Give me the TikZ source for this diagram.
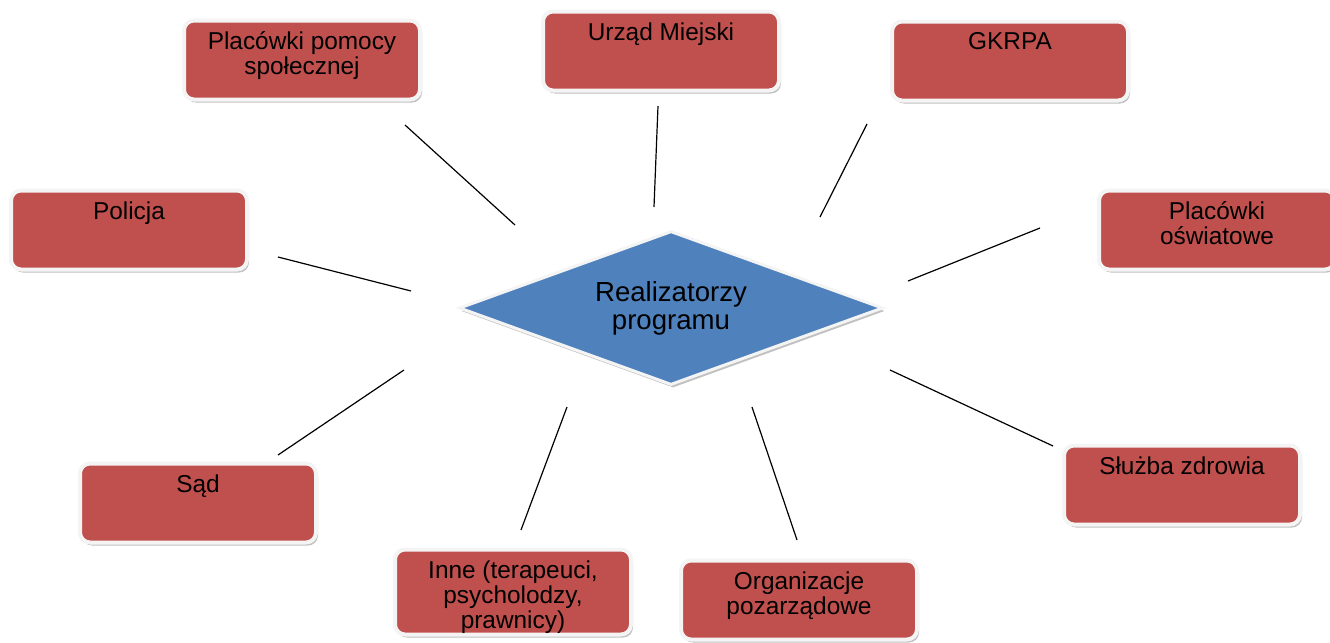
\documentclass[tikz,border=0pt]{standalone}
\usepackage{fontspec}
\setmainfont{Liberation Sans}
\usetikzlibrary{shadows,shapes.geometric,positioning}

\definecolor{boxred}{HTML}{C0504D}
\definecolor{diamblue}{HTML}{4F81BD}
\definecolor{rimwhite}{HTML}{F4F4F4}

\begin{document}
\begin{tikzpicture}[x=0.5pt,y=-0.5pt,
    box/.style={draw=rimwhite,line width=2pt,fill=boxred,rounded corners=5pt,
      minimum width=118pt,minimum height=39.5pt,inner sep=0pt,
      drop shadow={shadow xshift=1pt,shadow yshift=-1.5pt,opacity=.35,fill=black!70}},
    boxtext/.style={inner sep=0pt,align=center,font=\fontsize{12.2}{12.5}\selectfont},
    hub/.style={diamond,aspect=2.74,draw=rimwhite,line width=1.5pt,fill=diamblue,
      minimum width=212pt,minimum height=77pt,inner sep=0pt,align=center,
      font=\fontsize{13.8}{14}\selectfont,
      drop shadow={shadow xshift=1pt,shadow yshift=-1.5pt,opacity=.35,fill=black!70}},
    spoke/.style={black,line width=0.6pt}]
  \useasboundingbox (0,0) rectangle (1330,643);

  % central diamond
  \node[hub] (real) at (671,308) {Realizatorzy\\programu};

  % boxes round the diamond
  \foreach \n/\x/\y/\txt in {ps/302/60/{Placówki pomocy\\społecznej},
      um/661/51/{Urząd Miejski},
      gk/1010/61/{GKRPA},
      po/129/230/{Policja},
      pos/1217/230/{Placówki\\oświatowe},
      sad/198/503/{Sąd},
      sz/1182/485/{Służba zdrowia},
      org/799/600/{Organizacje\\pozarządowe}} {
    \node[box] (\n) at (\x,\y) {};
    \node[boxtext,below=6.5pt of \n.north] (\n-t) {\txt};
  }
  \node[box,minimum height=42.5pt] (inne) at (513,592) {};
  \node[boxtext,below=6.5pt of inne.north] (inne-t) {Inne (terapeuci,\\psycholodzy,\\prawnicy)};

  % loose spokes
  \coordinate (ps-a) at (405,125);  \coordinate (ps-b) at (515,225);
  \coordinate (um-a) at (658,106);  \coordinate (um-b) at (654,207);
  \coordinate (gk-a) at (867,124);  \coordinate (gk-b) at (820,217);
  \coordinate (pos-a) at (1040,228); \coordinate (pos-b) at (908,281);
  \coordinate (po-a) at (278,257);  \coordinate (po-b) at (411,291);
  \coordinate (sad-a) at (404,370); \coordinate (sad-b) at (278,455);
  \coordinate (inne-a) at (567,407); \coordinate (inne-b) at (521,530);
  \coordinate (org-a) at (752,407); \coordinate (org-b) at (797,540);
  \coordinate (sz-a) at (890,370);  \coordinate (sz-b) at (1053,446);
  \foreach \n in {ps,um,gk,pos,po,sad,inne,org,sz} {
    \draw[spoke] (\n-a) -- (\n-b);
  }
\end{tikzpicture}
\end{document}
